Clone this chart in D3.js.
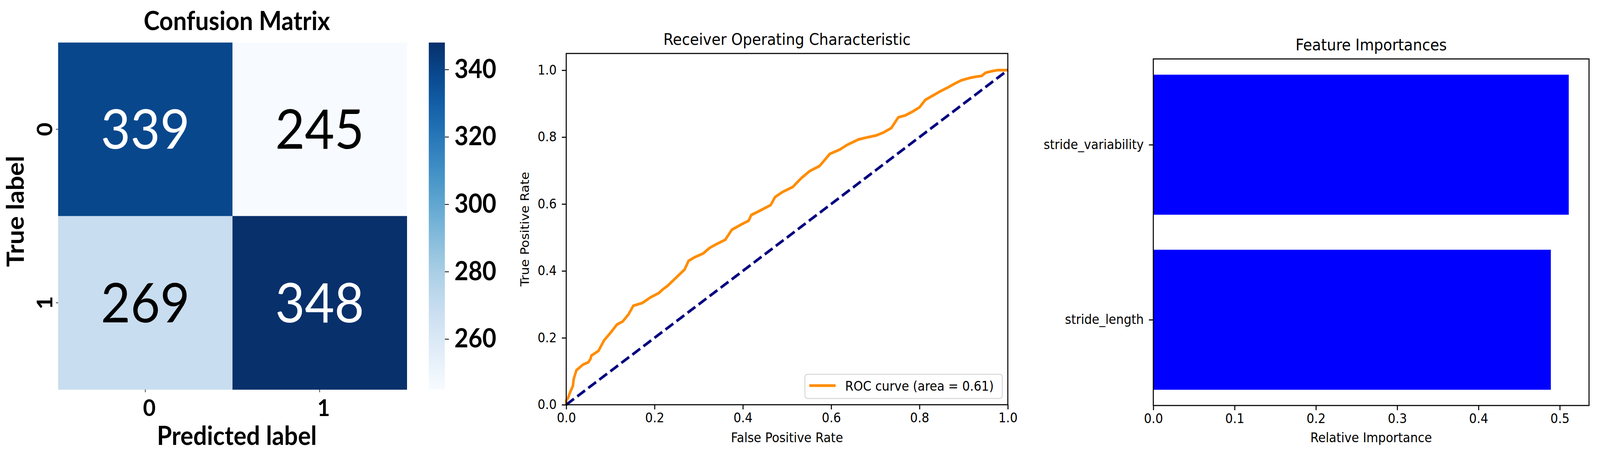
<!DOCTYPE html>
<html>
<head>
<meta charset="utf-8">
<script src="https://cdn.jsdelivr.net/npm/d3@7"></script>
<style>
  html, body { margin: 0; padding: 0; background: #fff; overflow: hidden; width: 100%; height: 100%; }
  svg { display: block; }
</style>
</head>
<body>
<div id="chart"></div>
<script>
var width = 4377;
var height = 1153;

// confusion matrix data
var cmLabels = ["0", "1"];
var cmValues = [[339, 245], [269, 348]];
var cbDomain = [245, 348];
var cbTicks = [260, 280, 300, 320, 340];

// roc curve data
var rocFpr = [0, 0, 0.004, 0.009, 0.015, 0.017, 0.023, 0.038, 0.05, 0.055, 0.057, 0.073, 0.086, 0.099, 0.115, 0.128, 0.141, 0.152, 0.172, 0.191, 0.21, 0.218, 0.23, 0.252, 0.268, 0.277, 0.291, 0.31, 0.325, 0.34, 0.36, 0.375, 0.398, 0.413, 0.419, 0.44, 0.463, 0.473, 0.49, 0.513, 0.532, 0.551, 0.574, 0.597, 0.62, 0.635, 0.662, 0.681, 0.702, 0.719, 0.736, 0.752, 0.768, 0.784, 0.8, 0.813, 0.826, 0.846, 0.865, 0.88, 0.895, 0.914, 0.93, 0.941, 0.949, 0.964, 0.976, 1.0];
var rocTpr = [0, 0.013, 0.02, 0.038, 0.056, 0.077, 0.103, 0.12, 0.127, 0.137, 0.147, 0.161, 0.193, 0.213, 0.24, 0.249, 0.27, 0.296, 0.304, 0.321, 0.334, 0.344, 0.356, 0.384, 0.404, 0.43, 0.441, 0.452, 0.469, 0.48, 0.493, 0.523, 0.54, 0.55, 0.567, 0.581, 0.597, 0.621, 0.636, 0.651, 0.677, 0.698, 0.714, 0.75, 0.763, 0.776, 0.793, 0.799, 0.805, 0.814, 0.827, 0.859, 0.865, 0.876, 0.889, 0.911, 0.921, 0.936, 0.949, 0.96, 0.97, 0.977, 0.981, 0.983, 0.992, 0.997, 1.0, 1.0];
var rocTicks = [0, 0.2, 0.4, 0.6, 0.8, 1.0];
var rocArea = 0.61;

// feature importances data
var featureNames = ["stride_length", "stride_variability"];
var featureValues = [0.489, 0.511];
var featureTicks = [0, 0.1, 0.2, 0.3, 0.4, 0.5];

// window may be narrower than the figure, so stretch the drawing to fill it
var svg = d3.select("#chart")
  .append("svg")
  .attr("viewBox", "0 0 " + width + " " + height)
  .attr("preserveAspectRatio", "none")
  .style("width", "100vw")
  .style("height", "100vh");

svg.append("rect").attr("width", width).attr("height", height).attr("fill", "#fff");

var boldFont = "Lato, 'Open Sans', sans-serif";
var mplFont = "'DejaVu Sans', sans-serif";

// ---------- confusion matrix ----------
var cm = { left: 159, right: 1113, top: 109, bottom: 998 };

var cx = d3.scaleBand().domain(cmLabels).range([cm.left, cm.right]);
var cy = d3.scaleBand().domain(cmLabels).range([cm.top, cm.bottom]);
var color = d3.scaleSequential(d3.interpolateBlues).domain(cbDomain);

var cells = [];
cmValues.forEach(function(row, i) {
  row.forEach(function(v, j) {
    cells.push({ row: cmLabels[i], col: cmLabels[j], value: v });
  });
});

svg.selectAll("rect.cell")
  .data(cells)
  .enter()
  .append("rect")
  .attr("class", "cell")
  .attr("x", function(d) { return cx(d.col); })
  .attr("y", function(d) { return cy(d.row); })
  .attr("width", cx.bandwidth() + 0.5)
  .attr("height", cy.bandwidth() + 0.5)
  .attr("fill", function(d) { return color(d.value); });

svg.selectAll("text.annot")
  .data(cells)
  .enter()
  .append("text")
  .attr("class", "annot")
  .attr("x", function(d) { return cx(d.col) + cx.bandwidth() / 2; })
  .attr("y", function(d) { return cy(d.row) + cy.bandwidth() / 2 - 4; })
  .attr("text-anchor", "middle")
  .attr("dominant-baseline", "central")
  .attr("font-family", boldFont)
  .attr("font-size", 140)
  .attr("fill", function(d) { return d3.lab(color(d.value)).l < 55 ? "#fff" : "#000"; })
  .text(function(d) { return d.value; });

// heatmap ticks
var cmXAxis = svg.append("g");
cmLabels.forEach(function(l) {
  var x = cx(l) + cx.bandwidth() / 2;
  cmXAxis.append("line").attr("x1", x).attr("x2", x)
    .attr("y1", cm.bottom).attr("y2", cm.bottom + 7)
    .attr("stroke", "#000").attr("stroke-width", 1.5);
  cmXAxis.append("text").attr("x", x + 11).attr("y", 1043)
    .attr("text-anchor", "middle").attr("dominant-baseline", "central")
    .attr("font-family", boldFont).attr("font-weight", "bold").attr("font-size", 60)
    .text(l);
});
var cmYAxis = svg.append("g");
cmLabels.forEach(function(l) {
  var y = cy(l) + cy.bandwidth() / 2;
  cmYAxis.append("line").attr("x1", cm.left - 6).attr("x2", cm.left)
    .attr("y1", y).attr("y2", y)
    .attr("stroke", "#000").attr("stroke-width", 1.5);
  cmYAxis.append("text")
    .attr("transform", "translate(120," + y + ") rotate(-90)")
    .attr("text-anchor", "middle").attr("dominant-baseline", "central")
    .attr("font-family", boldFont).attr("font-weight", "bold").attr("font-size", 60)
    .text(l);
});

svg.append("text")
  .attr("x", 648).attr("y", 77)
  .attr("text-anchor", "middle")
  .attr("font-family", boldFont).attr("font-weight", "bold").attr("font-size", 66)
  .text("Confusion Matrix");

svg.append("text")
  .attr("x", 648).attr("y", 1140)
  .attr("text-anchor", "middle")
  .attr("font-family", boldFont).attr("font-weight", "bold").attr("font-size", 66)
  .text("Predicted label");

svg.append("text")
  .attr("transform", "translate(40," + ((cm.top + cm.bottom) / 2 - 12) + ") rotate(-90)")
  .attr("text-anchor", "middle").attr("dominant-baseline", "central")
  .attr("font-family", boldFont).attr("font-weight", "bold").attr("font-size", 66)
  .text("True label");

// colorbar
var cb = { left: 1173, right: 1217, top: 109, bottom: 998 };
var cbScale = d3.scaleLinear().domain(cbDomain).range([cb.bottom, cb.top]);

var grad = svg.append("defs").append("linearGradient")
  .attr("id", "cbgrad")
  .attr("x1", 0).attr("y1", 1).attr("x2", 0).attr("y2", 0);
d3.range(0, 1.0001, 0.05).forEach(function(t) {
  grad.append("stop").attr("offset", t).attr("stop-color", d3.interpolateBlues(t));
});
svg.append("rect")
  .attr("x", cb.left).attr("y", cb.top)
  .attr("width", cb.right - cb.left).attr("height", cb.bottom - cb.top)
  .attr("fill", "url(#cbgrad)");

var cbAxis = svg.append("g")
  .attr("transform", "translate(" + cb.right + ",0)")
  .call(d3.axisRight(cbScale).tickValues(cbTicks).tickSize(11).tickPadding(15));
cbAxis.select(".domain").remove();
cbAxis.selectAll(".tick line").attr("stroke-width", 2);
cbAxis.selectAll(".tick text")
  .attr("font-family", boldFont).attr("font-weight", "bold").attr("font-size", 66)
  .attr("fill", "#000");

// ---------- ROC ----------
var roc = { left: 1549, right: 2757, top: 137, bottom: 1037 };
var rx = d3.scaleLinear().domain([0, 1]).range([roc.left, roc.right]);
var ry = d3.scaleLinear().domain([0, 1.05]).range([roc.bottom, roc.top]);

var rocPoints = rocFpr.map(function(f, i) { return [f, rocTpr[i]]; });
var line = d3.line()
  .x(function(d) { return rx(d[0]); })
  .y(function(d) { return ry(d[1]); });

svg.append("path")
  .datum(rocPoints)
  .attr("d", line)
  .attr("fill", "none")
  .attr("stroke", "#ff8c00")
  .attr("stroke-width", 7)
  .attr("stroke-linejoin", "round");

svg.append("path")
  .datum([[0, 0], [1, 1]])
  .attr("d", line)
  .attr("fill", "none")
  .attr("stroke", "#000080")
  .attr("stroke-width", 7)
  .attr("stroke-dasharray", "26,11");

function styleAxis(g) {
  g.select(".domain").remove();
  g.selectAll(".tick line").attr("stroke", "#000").attr("stroke-width", 2.8);
  g.selectAll(".tick text").attr("font-family", mplFont).attr("font-size", 33).attr("fill", "#000");
}

var rxAxis = svg.append("g")
  .attr("transform", "translate(0," + roc.bottom + ")")
  .call(d3.axisBottom(rx).tickValues(rocTicks).tickFormat(d3.format(".1f")).tickSize(12).tickPadding(10));
styleAxis(rxAxis);
var ryAxis = svg.append("g")
  .attr("transform", "translate(" + roc.left + ",0)")
  .call(d3.axisLeft(ry).tickValues(rocTicks).tickFormat(d3.format(".1f")).tickSize(12).tickPadding(14));
styleAxis(ryAxis);

svg.append("rect")
  .attr("x", roc.left).attr("y", roc.top)
  .attr("width", roc.right - roc.left).attr("height", roc.bottom - roc.top)
  .attr("fill", "none").attr("stroke", "#000").attr("stroke-width", 2.8);

svg.append("text")
  .attr("x", (roc.left + roc.right) / 2).attr("y", 115)
  .attr("text-anchor", "middle")
  .attr("font-family", mplFont).attr("font-size", 40)
  .text("Receiver Operating Characteristic");
svg.append("text")
  .attr("x", (roc.left + roc.right) / 2).attr("y", 1133)
  .attr("text-anchor", "middle")
  .attr("font-family", mplFont).attr("font-size", 33)
  .text("False Positive Rate");
svg.append("text")
  .attr("transform", "translate(1447," + (roc.top + roc.bottom) / 2 + ") rotate(-90)")
  .attr("text-anchor", "middle")
  .attr("font-family", mplFont).attr("font-size", 33)
  .text("True Positive Rate");

// legend
var legend = svg.append("g").attr("transform", "translate(2202,959)");
legend.append("rect")
  .attr("width", 540).attr("height", 62).attr("rx", 7)
  .attr("fill", "#fff").attr("fill-opacity", 0.8)
  .attr("stroke", "#d6d6d6").attr("stroke-width", 2.5);
legend.append("line")
  .attr("x1", 12).attr("x2", 84).attr("y1", 29).attr("y2", 29)
  .attr("stroke", "#ff8c00").attr("stroke-width", 7);
legend.append("text")
  .attr("x", 110).attr("y", 31)
  .attr("dominant-baseline", "central")
  .attr("font-family", mplFont).attr("font-size", 33)
  .text("ROC curve (area = " + rocArea.toFixed(2) + ")");

// ---------- feature importances ----------
var fi = { left: 3155, right: 4347, top: 151, bottom: 1039 };
var fx = d3.scaleLinear().domain([0, 0.5]).range([fi.left, 4267]);
var fy = d3.scaleLinear().domain([-0.49, 1.49]).range([fi.bottom, fi.top]);

svg.selectAll("rect.fbar")
  .data(featureValues)
  .enter()
  .append("rect")
  .attr("class", "fbar")
  .attr("x", fx(0))
  .attr("y", function(d, i) { return fy(i + 0.4); })
  .attr("width", function(d) { return fx(d) - fx(0); })
  .attr("height", function(d, i) { return fy(i - 0.4) - fy(i + 0.4); })
  .attr("fill", "#0000ff");

var fxAxis = svg.append("g")
  .attr("transform", "translate(0," + fi.bottom + ")")
  .call(d3.axisBottom(fx).tickValues(featureTicks).tickFormat(d3.format(".1f")).tickSize(12).tickPadding(10));
styleAxis(fxAxis);
var fyAxis = svg.append("g")
  .attr("transform", "translate(" + fi.left + ",0)")
  .call(d3.axisLeft(fy).tickValues([0, 1]).tickFormat(function(d) { return featureNames[d]; }).tickSize(12).tickPadding(14));
styleAxis(fyAxis);

svg.append("rect")
  .attr("x", fi.left).attr("y", fi.top)
  .attr("width", fi.right - fi.left).attr("height", fi.bottom - fi.top)
  .attr("fill", "none").attr("stroke", "#000").attr("stroke-width", 2.8);

svg.append("text")
  .attr("x", (fi.left + fi.right) / 2).attr("y", 129)
  .attr("text-anchor", "middle")
  .attr("font-family", mplFont).attr("font-size", 40)
  .text("Feature Importances");
svg.append("text")
  .attr("x", (fi.left + fi.right) / 2).attr("y", 1133)
  .attr("text-anchor", "middle")
  .attr("font-family", mplFont).attr("font-size", 33)
  .text("Relative Importance");
</script>
</body>
</html>
